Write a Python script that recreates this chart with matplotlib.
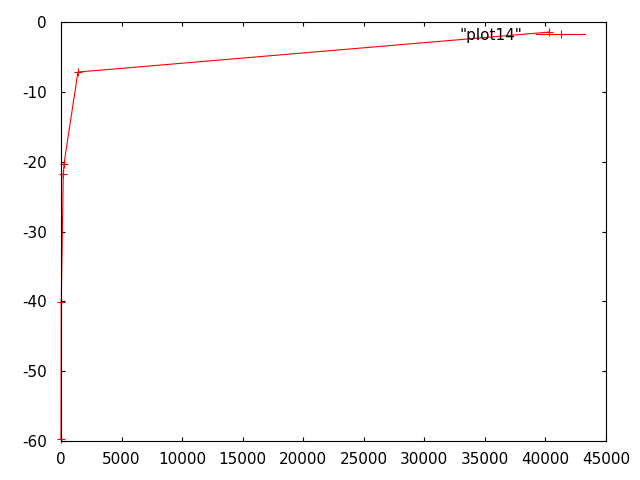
import matplotlib
matplotlib.use("Agg")
import matplotlib.pyplot as plt

x_vals = [0, 20, 190, 250, 1400, 40300]
y_vals = [-59.7, -40.1, -21.8, -20.25, -7.13, -1.4]
series_label = '"plot14"'
x_ticks = [0, 5000, 10000, 15000, 20000, 25000, 30000, 35000, 40000, 45000]
y_ticks = [-60, -50, -40, -30, -20, -10, 0]

plt.rcParams['font.family'] = ['DejaVu Sans']
fig = plt.figure(figsize=(6.4, 4.8), dpi=100)
ax = fig.add_axes([61/640, 1-441/480, (606-61)/640, (441-22.3)/480])

ax.plot(x_vals, y_vals, color='red', linewidth=0.8, marker='+', markersize=6,
        markeredgewidth=0.8, label=series_label, clip_on=False, zorder=2)
ax.set_xlim(0, 45000)
ax.set_ylim(-60, 0)
ax.set_xticks(x_ticks)
ax.set_yticks(y_ticks)
ax.set_xticklabels([str(t) for t in x_ticks])
ax.set_yticklabels([str(t) for t in y_ticks])
ax.tick_params(direction='in', length=3.2, width=0.8, top=True, right=True,
               labelsize=11, colors='black')
ax.tick_params(axis='x', pad=8)
ax.tick_params(axis='y', pad=10)
for s in ax.spines.values():
    s.set_linewidth(0.8)
    s.set_color('black')
    s.set_zorder(2.5)

leg = ax.legend(loc='center right', bbox_to_anchor=((585-61)/545, 1-(35-22.3)/418.4),
                frameon=False, markerfirst=False, borderpad=0, borderaxespad=0,
                handlelength=3.2, handletextpad=0.9, fontsize=11, numpoints=1)

fig.savefig('out.png', dpi=100)
